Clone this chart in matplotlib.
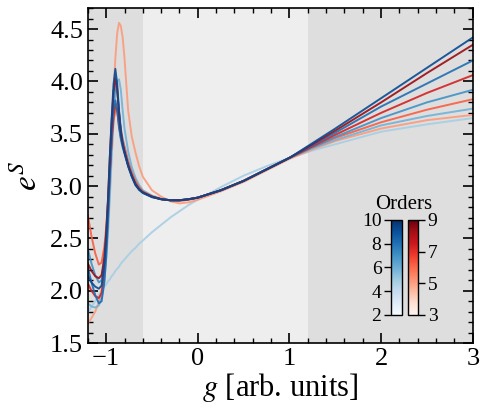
import numpy as np
import matplotlib
matplotlib.use("Agg")
import matplotlib.pyplot as plt
import matplotlib.colors as mcolors
import matplotlib.cm as cm
from matplotlib.ticker import MultipleLocator

# ----------------------------
# Data
# ----------------------------
G = [-1.2, -1.16, -1.12, -1.08, -1.05, -1.02, -1.0, -0.98, -0.96, -0.94,
     -0.92, -0.9, -0.88, -0.86, -0.84, -0.82, -0.8, -0.76, -0.72, -0.68,
     -0.64, -0.6, -0.5, -0.4, -0.3, -0.2, -0.1, 0.0, 0.25, 0.5,
     0.75, 1.0, 1.25, 1.5, 2.0, 2.5, 3.0]

ORDER_2 = [1.79, 1.85, 1.90, 1.96, 2.00, 2.04, 2.06, 2.09, 2.11, 2.14,
           2.16, 2.19, 2.21, 2.23, 2.26, 2.28, 2.30, 2.34, 2.38, 2.41,
           2.45, 2.48, 2.56, 2.63, 2.70, 2.76, 2.82, 2.87, 2.99, 3.10,
           3.19, 3.27, 3.34, 3.40, 3.52, 3.59, 3.65]
ORDER_3 = [1.69, 1.74, 1.80, 1.89, 2.00, 2.20, 2.40, 2.65, 3.00, 3.42,
           3.85, 4.22, 4.46, 4.56, 4.53, 4.42, 4.22, 3.72, 3.47, 3.32,
           3.19, 3.09, 2.96, 2.90, 2.855, 2.835, 2.845, 2.87, 2.95, 3.04,
           3.15, 3.26, 3.35, 3.43, 3.55, 3.63, 3.68]
ORDER_4 = [1.88, 1.85, 1.84, 1.86, 1.93, 2.10, 2.30, 2.55, 2.90, 3.28,
           3.62, 3.88, 4.00, 4.02, 3.92, 3.72, 3.55, 3.33, 3.18, 3.08,
           3.01, 2.96, 2.91, 2.88, 2.865, 2.86, 2.87, 2.89, 2.96, 3.05,
           3.16, 3.27, 3.36, 3.44, 3.58, 3.67, 3.74]
ORDER_5 = [2.72, 2.52, 2.36, 2.25, 2.27, 2.42, 2.60, 2.85, 3.15, 3.42,
           3.62, 3.72, 3.74, 3.66, 3.54, 3.45, 3.38, 3.24, 3.13, 3.05,
           2.99, 2.95, 2.90, 2.875, 2.865, 2.86, 2.87, 2.89, 2.96, 3.05,
           3.16, 3.27, 3.37, 3.46, 3.61, 3.73, 3.83]
ORDER_6 = [2.40, 2.26, 2.15, 2.08, 2.10, 2.28, 2.50, 2.80, 3.18, 3.52,
           3.80, 3.95, 3.90, 3.72, 3.55, 3.43, 3.35, 3.22, 3.11, 3.03,
           2.98, 2.945, 2.90, 2.875, 2.865, 2.865, 2.875, 2.89, 2.96, 3.05,
           3.16, 3.27, 3.37, 3.47, 3.65, 3.80, 3.92]
ORDER_7 = [2.07, 2.00, 1.95, 1.93, 1.98, 2.18, 2.42, 2.75, 3.12, 3.45,
           3.68, 3.78, 3.72, 3.58, 3.47, 3.39, 3.33, 3.20, 3.10, 3.02,
           2.97, 2.94, 2.90, 2.875, 2.865, 2.865, 2.875, 2.89, 2.96, 3.05,
           3.16, 3.27, 3.38, 3.49, 3.70, 3.89, 4.06]
ORDER_8 = [2.22, 2.08, 1.96, 1.88, 1.90, 2.08, 2.32, 2.68, 3.10, 3.47,
           3.72, 3.82, 3.73, 3.56, 3.45, 3.37, 3.31, 3.19, 3.09, 3.01,
           2.965, 2.935, 2.895, 2.875, 2.865, 2.865, 2.875, 2.89, 2.96, 3.05,
           3.16, 3.27, 3.39, 3.51, 3.76, 3.98, 4.20]
ORDER_9 = [2.26, 2.19, 2.14, 2.12, 2.15, 2.32, 2.55, 2.88, 3.28, 3.62,
           3.90, 4.03, 3.93, 3.70, 3.52, 3.41, 3.33, 3.20, 3.10, 3.02,
           2.97, 2.94, 2.90, 2.875, 2.865, 2.865, 2.875, 2.89, 2.96, 3.05,
           3.16, 3.27, 3.40, 3.53, 3.80, 4.08, 4.35]
ORDER_10 = [2.14, 2.08, 2.04, 2.02, 2.05, 2.25, 2.50, 2.86, 3.28, 3.65,
            3.97, 4.12, 3.98, 3.72, 3.52, 3.40, 3.32, 3.19, 3.09, 3.01,
            2.965, 2.935, 2.895, 2.875, 2.865, 2.865, 2.875, 2.89, 2.96, 3.05,
            3.16, 3.27, 3.41, 3.55, 3.84, 4.13, 4.42]

CURVES = {2: ORDER_2, 3: ORDER_3, 4: ORDER_4, 5: ORDER_5, 6: ORDER_6,
          7: ORDER_7, 8: ORDER_8, 9: ORDER_9, 10: ORDER_10}

EVEN_ORDERS = [2, 4, 6, 8, 10]
ODD_ORDERS = [3, 5, 7, 9]

REGIONS = [(-1.2, -0.6, "#dedede"), (-0.6, 1.2, "#eeeeee"), (1.2, 3.0, "#dedede")]

# ----------------------------
# Style
# ----------------------------
plt.rcParams["font.family"] = ["Liberation Serif", "DejaVu Serif"]
plt.rcParams["mathtext.fontset"] = "stix"
plt.rcParams["axes.linewidth"] = 1.2

fig = plt.figure(figsize=(4.8, 4.08), dpi=100)
ax = fig.add_axes([0.183, 0.159, 0.802, 0.821])

for x0, x1, c in REGIONS:
    ax.axvspan(x0, x1, color=c, lw=0, zorder=0)

blues = plt.get_cmap("Blues")
reds = plt.get_cmap("Reds")


def line_color(n):
    if n % 2 == 0:
        return blues(0.35 + 0.55 * (n - 2) / 8)
    return reds(0.35 + 0.55 * (n - 3) / 6)


for n, vals in CURVES.items():
    ax.plot(G, vals, color=line_color(n), lw=1.4, alpha=0.9, zorder=2)

ax.set_xlim(-1.2, 3.0)
ax.set_ylim(1.5, 4.7)
ax.xaxis.set_major_locator(MultipleLocator(1))
ax.xaxis.set_minor_locator(MultipleLocator(0.2))
ax.yaxis.set_major_locator(MultipleLocator(0.5))
ax.yaxis.set_minor_locator(MultipleLocator(0.1))
ax.tick_params(which="both", direction="in", top=True, right=True, labelsize=19)
ax.tick_params(which="major", length=7, width=1.2)
ax.tick_params(which="minor", length=3.5, width=1.0)

ax.set_xlabel("$g$ [arb. units]", fontsize=22, labelpad=1)
ax.set_ylabel("$e^S$", fontsize=24, labelpad=4)

# ----------------------------
# Order legend: two little colorbars
# ----------------------------
cax_b = fig.add_axes([0.815, 0.228, 0.022, 0.233])
cax_r = fig.add_axes([0.851, 0.228, 0.020, 0.233])

cb_b = fig.colorbar(cm.ScalarMappable(norm=mcolors.Normalize(2, 10), cmap=blues),
                    cax=cax_b, ticks=EVEN_ORDERS)
cb_r = fig.colorbar(cm.ScalarMappable(norm=mcolors.Normalize(3, 9), cmap=reds),
                    cax=cax_r, ticks=ODD_ORDERS)
cax_b.yaxis.set_ticks_position("left")
cax_b.yaxis.set_label_position("left")
for cb, cax in ((cb_b, cax_b), (cb_r, cax_r)):
    cb.outline.set_linewidth(1.0)
    cax.tick_params(direction="out", length=5, width=1.0, labelsize=14, pad=2)
    cax.minorticks_off()

fig.text(0.842, 0.475, "Orders", ha="center", va="bottom", fontsize=15)

fig.savefig("out.png", dpi=100)
